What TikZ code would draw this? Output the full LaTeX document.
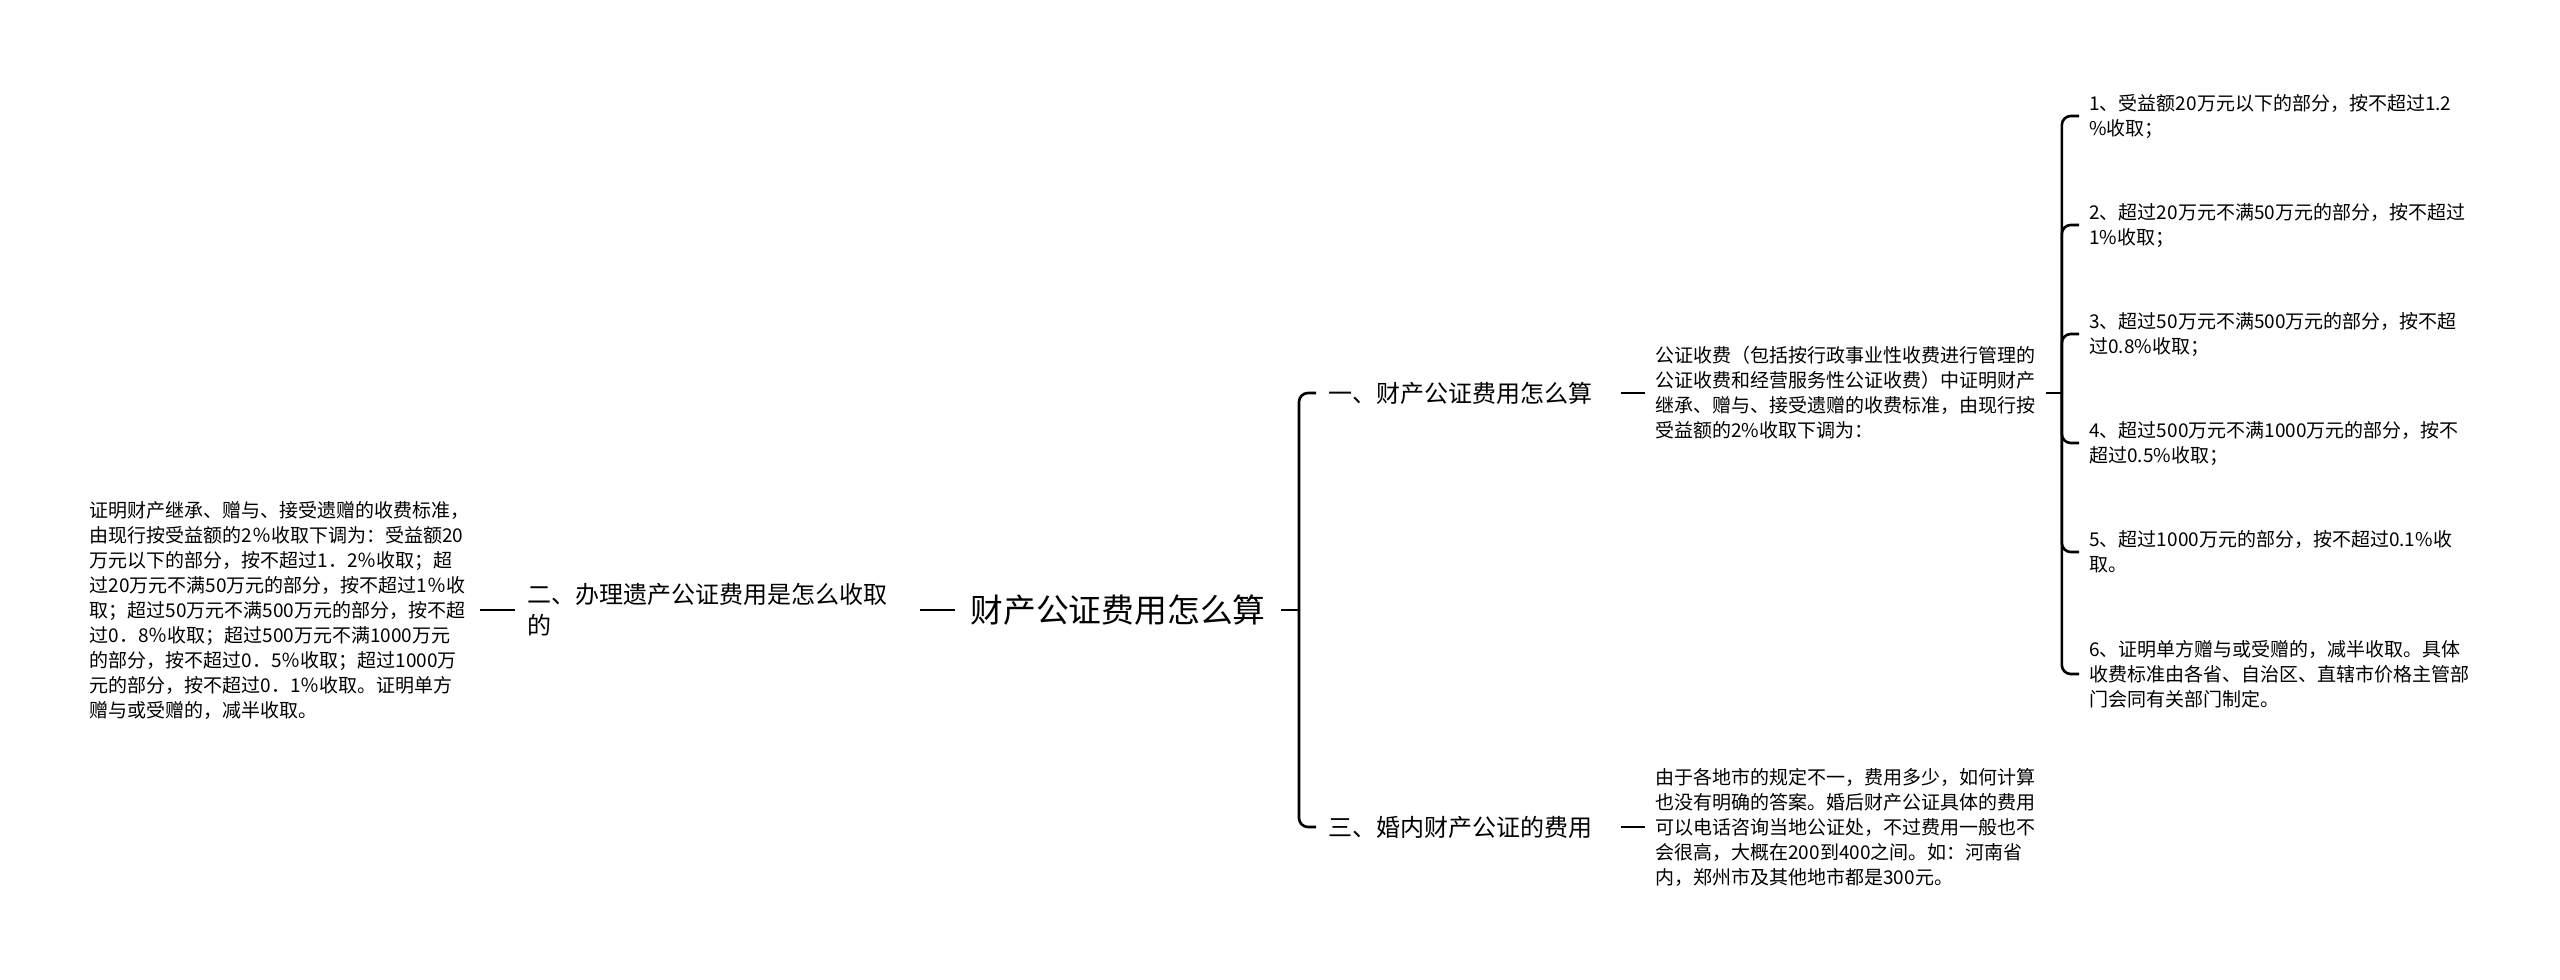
\documentclass[tikz,border=0pt]{standalone}
\usepackage{fontspec}
\newfontfamily\cjk{Noto Sans CJK SC}
\usetikzlibrary{calc}

\tikzset{
  link/.style={line width=1.3pt, rounded corners=4.5pt},
  rootnode/.style={font=\cjk\fontsize{16.4}{20}\selectfont, inner xsep=7.5pt},
  topic/.style={font=\cjk\fontsize{12}{15.5}\selectfont, inner xsep=6pt, align=left},
  leaf/.style={font=\cjk\fontsize{9.5}{12.5}\selectfont, inner xsep=5pt, align=left},
}

\begin{document}
\begin{tikzpicture}[x=0.5pt, y=-0.5pt]
    \useasboundingbox (0,0) rectangle (2560,980);
    % root
    \node[rootnode, anchor=west] (root) at (955,610) {财产公证费用怎么算};

    % left branch
    \node[topic, anchor=east, text width=190pt] (t2) at (920,610) {二、办理遗产公证费用是怎么收取\\的};
    \node[leaf, anchor=east] (l2) at (480,610) {证明财产继承、赠与、接受遗赠的收费标准，\\由现行按受益额的2％收取下调为：受益额20\\万元以下的部分，按不超过1．2％收取；超\\过20万元不满50万元的部分，按不超过1％收\\取；超过50万元不满500万元的部分，按不超\\过0．8％收取；超过500万元不满1000万元\\的部分，按不超过0．5％收取；超过1000万\\元的部分，按不超过0．1％收取。证明单方\\赠与或受赠的，减半收取。};
    \draw[link] (root.west) -- (t2.east);
    \draw[link] (t2.west) -- (l2.east);

    % right branches
    \coordinate (j0) at ($(root.east)+(18,0)$);
    \node[topic, anchor=west, text width=140pt] (t1) at (1316,393) {一、财产公证费用怎么算};
    \node[topic, anchor=west, text width=140pt] (t3) at (1316,827) {三、婚内财产公证的费用};
    \draw[link] (root.east) -- (j0);
    \draw[link] (j0) |- (t1.west);
    \draw[link] (j0) |- (t3.west);

    \node[leaf, anchor=west] (l1) at (1645,393) {公证收费（包括按行政事业性收费进行管理的\\公证收费和经营服务性公证收费）中证明财产\\继承、赠与、接受遗赠的收费标准，由现行按\\受益额的2\%收取下调为：};
    \node[leaf, anchor=west] (l3) at (1645,827) {由于各地市的规定不一，费用多少，如何计算\\也没有明确的答案。婚后财产公证具体的费用\\可以电话咨询当地公证处，不过费用一般也不\\会很高，大概在200到400之间。如：河南省\\内，郑州市及其他地市都是300元。};
    \draw[link] (t1.east) -- (l1.west);
    \draw[link] (t3.east) -- (l3.west);

    % fee items
    \coordinate (j1) at ($(l1.east)+(16,0)$);
    \node[leaf, anchor=west] (i1) at (2079,116) {1、受益额20万元以下的部分，按不超过1.2\\\%收取；};
    \node[leaf, anchor=west] (i2) at (2079,225) {2、超过20万元不满50万元的部分，按不超过\\1\%收取；};
    \node[leaf, anchor=west] (i3) at (2079,334) {3、超过50万元不满500万元的部分，按不超\\过0.8\%收取；};
    \node[leaf, anchor=west] (i4) at (2079,443) {4、超过500万元不满1000万元的部分，按不\\超过0.5\%收取；};
    \node[leaf, anchor=west] (i5) at (2079,552) {5、超过1000万元的部分，按不超过0.1\%收\\取。};
    \node[leaf, anchor=west] (i6) at (2079,674) {6、证明单方赠与或受赠的，减半收取。具体\\收费标准由各省、自治区、直辖市价格主管部\\门会同有关部门制定。};
    \draw[link] (l1.east) -- (j1);
    \draw[link] (j1) |- (i1.west);
    \draw[link] (j1) |- (i2.west);
    \draw[link] (j1) |- (i3.west);
    \draw[link] (j1) |- (i4.west);
    \draw[link] (j1) |- (i5.west);
    \draw[link] (j1) |- (i6.west);
\end{tikzpicture}
\end{document}
